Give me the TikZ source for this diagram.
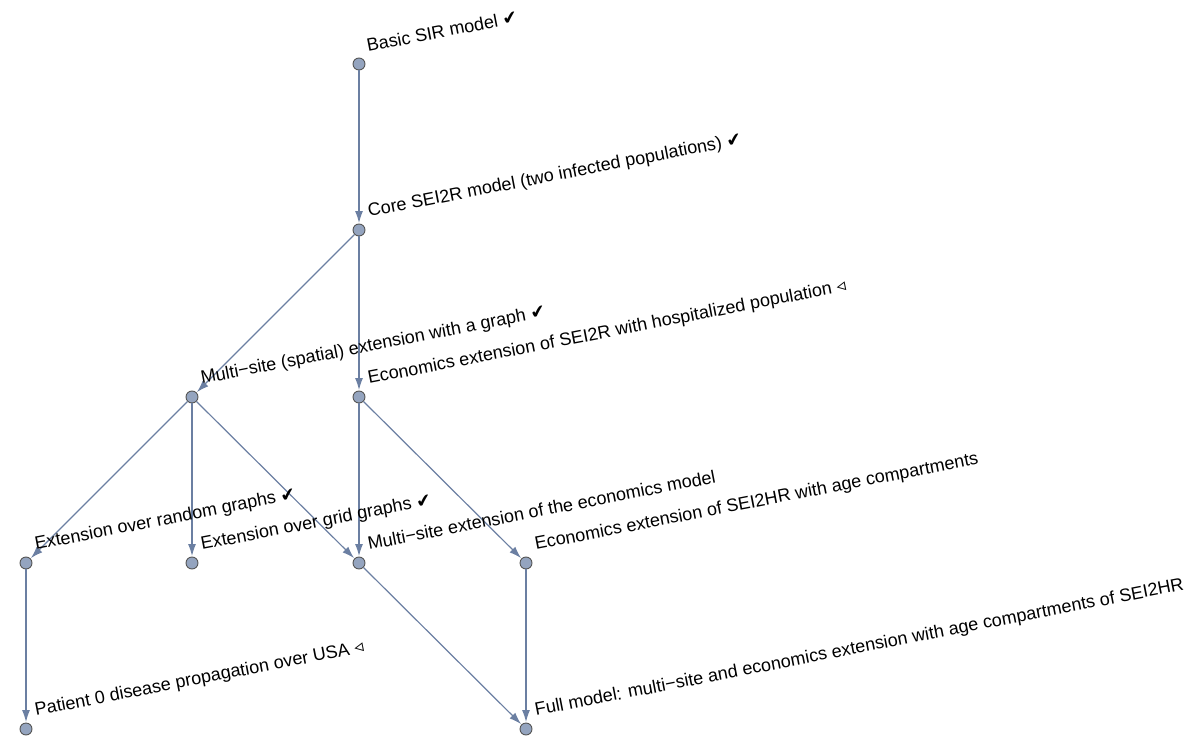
\documentclass[tikz,border=0pt]{standalone}
\usepackage{fontspec}
\setmainfont{Liberation Sans}
\newfontfamily\symfont{DejaVu Sans}
\usetikzlibrary{arrows.meta,calc}
\definecolor{vfill}{HTML}{94A4BF}
\definecolor{vdraw}{HTML}{555555}
\definecolor{edgecol}{HTML}{6B7FA2}
\newcommand{\ck}{{\symfont ✔}}
\newcommand{\tri}{{\symfont ◃}}
\tikzset{
  vert/.style={circle, minimum size=12pt, inner sep=0pt, draw=vdraw, fill=vfill, line width=0.9pt},
  lbl/.style={rotate=11, anchor=base west, inner sep=0pt, font=\fontsize{18}{21}\selectfont},
  edge/.style={draw=edgecol, line width=1.2pt, -{Latex[length=12pt,width=8pt]}, shorten >=0.5pt}
}
\begin{document}
\begin{tikzpicture}[x=1pt,y=-1pt]
\useasboundingbox (0,0) rectangle (1190,751);
\node[vert] (A) at (359,64) {};
\node[vert] (B) at (359,230) {};
\node[vert] (C) at (192,397) {};
\node[vert] (D) at (359,397) {};
\node[vert] (E) at (26,563) {};
\node[vert] (F) at (192,563) {};
\node[vert] (G) at (359,563) {};
\node[vert] (H) at (526,563) {};
\node[vert] (I) at (26,729) {};
\node[vert] (J) at (526,729) {};
\foreach \s/\t in {A/B,B/C,B/D,C/E,C/F,C/G,D/G,D/H,E/I,G/J,H/J}
  \draw[edge] (\s) -- (\t);
\node[lbl] (lA) at ($(A)+(9,-12)$) {Basic SIR model \ck};
\node[lbl] (lB) at ($(B)+(10,-13)$) {Core SEI2R model (two infected populations) \ck};
\node[lbl] (lC) at ($(C)+(10,-13)$) {Multi−site (spatial) extension with a graph \ck};
\node[lbl] (lD) at ($(D)+(10,-13)$) {Economics extension of SEI2R with hospitalized population \tri};
\node[lbl] (lE) at ($(E)+(10,-13)$) {Extension over random graphs \ck};
\node[lbl] (lF) at ($(F)+(10,-13)$) {Extension over grid graphs \ck};
\node[lbl] (lG) at ($(G)+(10,-13)$) {Multi−site extension of the economics model};
\node[lbl] (lH) at ($(H)+(10,-13)$) {Economics extension of SEI2HR with age compartments};
\node[lbl] (lI) at ($(I)+(10,-13)$) {Patient 0 disease propagation over USA \tri};
\node[lbl] (lJ) at ($(J)+(10,-13)$) {Full model: multi−site and economics extension with age compartments of SEI2HR};
\end{tikzpicture}
\end{document}
